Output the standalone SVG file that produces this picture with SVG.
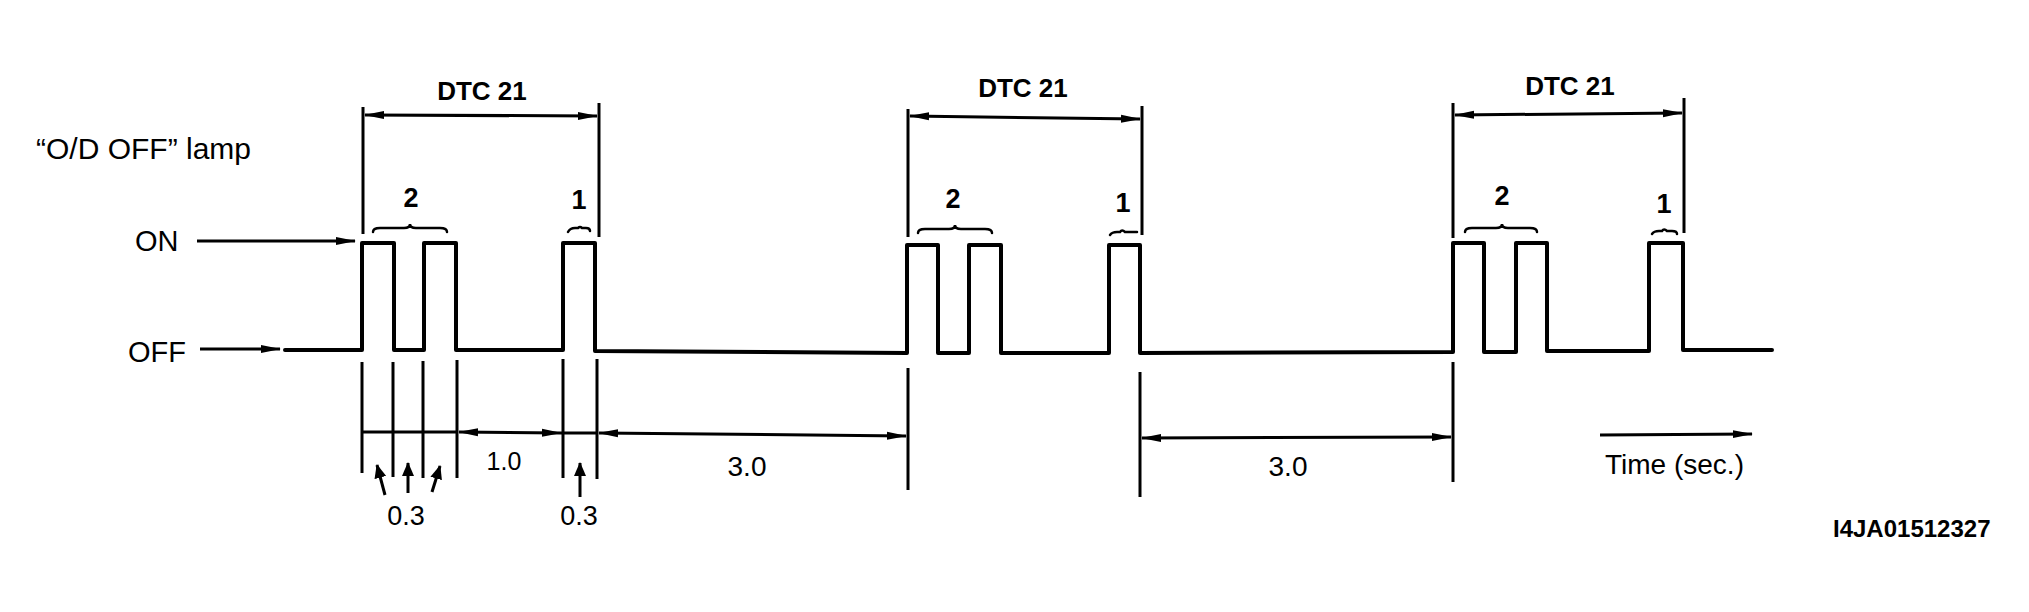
<svg xmlns="http://www.w3.org/2000/svg" width="2029" height="612" viewBox="0 0 2029 612">
<defs>
<marker id="ah" markerUnits="userSpaceOnUse" markerWidth="20" markerHeight="10" refX="19" refY="5" orient="auto-start-reverse">
<path d="M0,1 L20,5 L0,9 z" fill="#000"/>
</marker>
<marker id="ahs" markerUnits="userSpaceOnUse" markerWidth="14" markerHeight="12" refX="13" refY="6" orient="auto">
<path d="M0,0 L14,6 L0,12 z" fill="#000"/>
</marker>
</defs>
<style>
text { font-family: "Liberation Sans", Arial, sans-serif; fill: #000; }
.b { font-weight: bold; }
.sig { fill: none; stroke: #000; stroke-width: 4; stroke-linejoin: round; stroke-linecap: round; }
.ext { stroke: #000; stroke-width: 3; fill: none; }
.dim { stroke: #000; stroke-width: 3; fill: none; }
.brace { stroke: #000; stroke-width: 2.5; fill: none; stroke-linecap: round; }
</style>
<rect width="2029" height="612" fill="#fff"/>

<g id="labels">
<text x="36" y="159" font-size="30">“O/D OFF” lamp</text>
<text x="135" y="251" font-size="29">ON</text>
<text x="128" y="362" font-size="29">OFF</text>
<text x="1605" y="474" font-size="28">Time (sec.)</text>
<text x="1833" y="537" font-size="24" class="b">I4JA01512327</text>
</g>

<g id="signal">
<path class="sig" d="M285,350 L362,350 L362,243 L394,243 L394,350 L424,350 L424,243 L456,243 L456,350 L563,350 L563,243 L595,243 L595,351 L907,353 L907,245 L938,245 L938,353 L969,353 L969,245 L1001,245 L1001,353 L1109,353 L1109,245 L1140,245 L1140,353 L1453,352 L1453,243 L1484,243 L1484,352 L1516,352 L1516,243 L1547,243 L1547,351 L1649,351 L1649,243 L1683,243 L1683,350 L1772,350"/>
</g>

<g id="dtc1">
<line class="ext" x1="363" y1="107" x2="363" y2="234"/>
<line class="ext" x1="599" y1="103" x2="599" y2="237"/>
<text x="482" y="100" font-size="26" class="b" text-anchor="middle">DTC 21</text>
<path class="brace" d="M373,232 Q373,228 380,228 L404,228 Q410,228 410,224 Q410,228 416,228 L440,228 Q447,228 447,232"/>
<text x="411" y="207" font-size="27" class="b" text-anchor="middle">2</text>
<path class="brace" d="M568,232 Q570,228 575,228 L578,228 Q580,226 582,228 L586,228 Q590,228 590,231"/>
<text x="579" y="209" font-size="27" class="b" text-anchor="middle">1</text>
</g>

<g id="dtc2">
<line class="ext" x1="908" y1="109" x2="908" y2="237"/>
<line class="ext" x1="1142" y1="106" x2="1142" y2="235"/>
<text x="1023" y="97" font-size="26" class="b" text-anchor="middle">DTC 21</text>
<path class="brace" d="M918,233 Q918,229 925,229 L949,229 Q955,229 955,225 Q955,229 961,229 L985,229 Q992,229 992,233"/>
<text x="953" y="208" font-size="27" class="b" text-anchor="middle">2</text>
<path class="brace" d="M1110,235 Q1112,232 1117,232 L1120,232 Q1122,229 1125,232 L1131,232 Q1137,232 1137,232"/>
<text x="1123" y="212" font-size="27" class="b" text-anchor="middle">1</text>
</g>

<g id="dtc3">
<line class="ext" x1="1453" y1="103" x2="1453" y2="238"/>
<line class="ext" x1="1684" y1="98" x2="1684" y2="233"/>
<text x="1570" y="95" font-size="26" class="b" text-anchor="middle">DTC 21</text>
<path class="brace" d="M1465,232 Q1465,228 1472,228 L1496,228 Q1502,228 1502,224 Q1502,228 1508,228 L1530,228 Q1537,228 1537,232"/>
<text x="1502" y="205" font-size="27" class="b" text-anchor="middle">2</text>
<path class="brace" d="M1652,234 Q1654,231 1659,231 L1662,231 Q1664,228 1667,231 L1672,231 Q1677,231 1677,234"/>
<text x="1664" y="213" font-size="27" class="b" text-anchor="middle">1</text>
</g>

<g id="timing">
<line class="ext" x1="362" y1="362" x2="362" y2="473"/>
<line class="ext" x1="393" y1="362" x2="393" y2="477"/>
<line class="ext" x1="423" y1="361" x2="423" y2="478"/>
<line class="ext" x1="457" y1="360" x2="457" y2="478"/>
<line class="ext" x1="563" y1="359" x2="563" y2="478"/>
<line class="ext" x1="597" y1="359" x2="597" y2="479"/>
<line class="ext" x1="908" y1="368" x2="908" y2="490"/>
<line class="ext" x1="1140" y1="372" x2="1140" y2="497"/>
<line class="ext" x1="1453" y1="362" x2="1453" y2="482"/>
<text x="504" y="470" font-size="25" text-anchor="middle">1.0</text>
<text x="406" y="525" font-size="27" text-anchor="middle">0.3</text>
<text x="579" y="525" font-size="27" text-anchor="middle">0.3</text>
<text x="747" y="476" font-size="28" text-anchor="middle">3.0</text>
<text x="1288" y="476" font-size="28" text-anchor="middle">3.0</text>
</g>

<g id="connectors">
<line class="dim" x1="197" y1="241" x2="355" y2="241" marker-end="url(#ah)"/>
<line class="dim" x1="200" y1="349" x2="280" y2="349" marker-end="url(#ah)"/>
<line class="dim" x1="365" y1="115" x2="597" y2="116" marker-start="url(#ah)" marker-end="url(#ah)"/>
<line class="dim" x1="910" y1="116" x2="1140" y2="119" marker-start="url(#ah)" marker-end="url(#ah)"/>
<line class="dim" x1="1455" y1="115" x2="1682" y2="113" marker-start="url(#ah)" marker-end="url(#ah)"/>
<line class="dim" x1="361" y1="432" x2="457" y2="432"/>
<line class="dim" x1="459" y1="432" x2="561" y2="433" marker-start="url(#ah)" marker-end="url(#ah)"/>
<line class="dim" x1="561" y1="433" x2="597" y2="433"/>
<line class="dim" x1="599" y1="433" x2="906" y2="436" marker-start="url(#ah)" marker-end="url(#ah)"/>
<line class="dim" x1="1142" y1="438" x2="1451" y2="437" marker-start="url(#ah)" marker-end="url(#ah)"/>
<line class="dim" x1="1600" y1="435" x2="1752" y2="434" marker-end="url(#ah)"/>
<line class="dim" x1="385" y1="495" x2="377" y2="465" marker-end="url(#ahs)"/>
<line class="dim" x1="408" y1="493" x2="408" y2="463" marker-end="url(#ahs)"/>
<line class="dim" x1="432" y1="492" x2="440" y2="466" marker-end="url(#ahs)"/>
<line class="dim" x1="580" y1="497" x2="580" y2="463" marker-end="url(#ahs)"/>
</g>
</svg>
